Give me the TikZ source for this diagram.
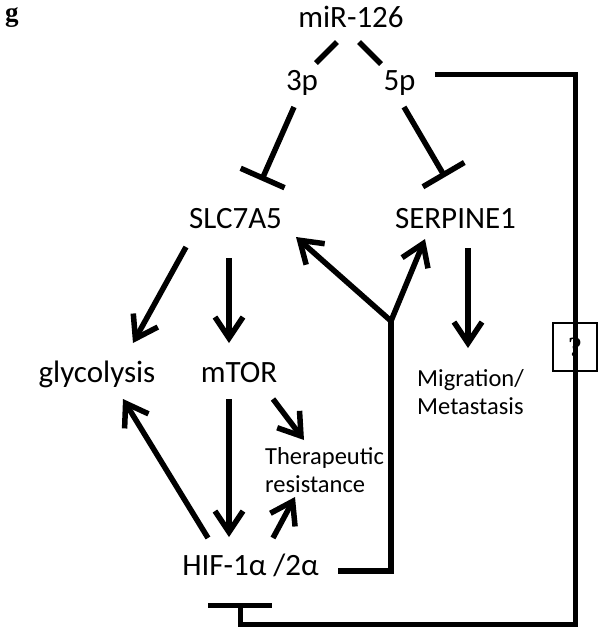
\documentclass[tikz,border=0pt]{standalone}
\usepackage{fontspec}
\setmainfont{Carlito}
\newfontfamily\tagfont{Liberation Serif}
\usetikzlibrary{arrows.meta,calc}

\begin{document}
\begin{tikzpicture}[x=1pt,y=-1pt,
		lbl/.style={font=\fontsize{31}{36}\selectfont,inner sep=0pt,anchor=base},
		note/.style={font=\fontsize{24.5}{28.5}\selectfont,inner sep=0pt,align=left},
		plain/.style={line width=5.5pt},
		act/.style={line width=5.5pt,-{Straight Barb[length=21pt,width=28pt]}},
		inh/.style={line width=5.5pt,-{Bar[width=48pt]}}]
		\useasboundingbox (0,0) rectangle (604,633);
		
		\node[font=\tagfont\bfseries\fontsize{27}{30}\selectfont,inner sep=0pt,anchor=base] (tag) at (12,21) {g};
		
		\node[lbl] (mir) at (351,27) {miR-126};
		\node[lbl] (p3) at (302,90) {3p};
		\node[lbl] (p5) at (399.5,90) {5p};
		\node[lbl] (slc) at (235.5,228) {SLC7A5};
		\node[lbl] (serp) at (455.5,228) {SERPINE1};
		\node[lbl] (gly) at (97,382) {glycolysis};
		\node[lbl] (mtor) at (239,382) {mTOR};
		\node[lbl] (hif) at (250.5,575) {HIF-1α /2α};
		\node[note] (migr) at (470.5,392) {Migration/\\Metastasis};
		\node[note] (ther) at (324.5,470) {Therapeutic\\resistance};
		\coordinate (fork) at (391,321);
		
		\node[draw,line width=2.7pt,minimum width=44pt,minimum height=48pt,inner sep=0pt,
		font=\tagfont\bfseries\fontsize{28}{32}\selectfont] (qbox) at (575,347) {?};
		
		% miR-126 arms
		\draw[plain] ($(mir.base)+(-14,15)$) -- ($(p3.base)+(14,-27)$);
		\draw[plain] ($(mir.base)+(8,15)$) -- ($(p5.base)+(-18.5,-26)$);
		
		% repression
		\draw[inh] ($(p3.base)+(-8,17)$) -- ($(slc.base)+(26,-47.5)$);
		\draw[inh] ($(p5.base)+(4.5,17)$) -- ($(serp.base)+(-10.5,-51)$);
		\draw[line width=5pt,-{Bar[width=64pt]}] ($(p5.base)+(35.5,-16)$) -| ($(hif.base)+(324.5,49)$) -| ($(hif.base)+(-10.5,28)$);
		
		% activation
		\draw[act] ($(slc.base)+(-49.5,19)$) -- ($(gly.base)+(36,-39)$);
		\draw[act] ($(slc.base)+(-6.5,30)$) -- ($(mtor.base)+(-10,-39)$);
		\draw[act] ($(serp.base)+(12.5,20)$) -- ($(migr.center)+(-2.5,-44)$);
		\draw[act] ($(mtor.base)+(-10,17)$) -- ($(hif.base)+(-21.5,-38)$);
		\draw[act] ($(mtor.base)+(34,17)$) -- ($(ther.center)+(-20.5,-30)$);
		\draw[act] ($(hif.base)+(-42.5,-37)$) -- ($(gly.base)+(26,17)$);
		\draw[act] ($(hif.base)+(22.5,-37)$) -- ($(ther.center)+(-29.5,27)$);
		
		% HIF feedback
		\draw[plain] ($(hif.base)+(87.5,-4)$) -| (fork);
		\draw[act] (fork) -- ($(slc.base)+(60.5,9)$);
		\draw[act] (fork) -- ($(serp.base)+(-30.5,11)$);
		
		\end{tikzpicture}
\end{document}
